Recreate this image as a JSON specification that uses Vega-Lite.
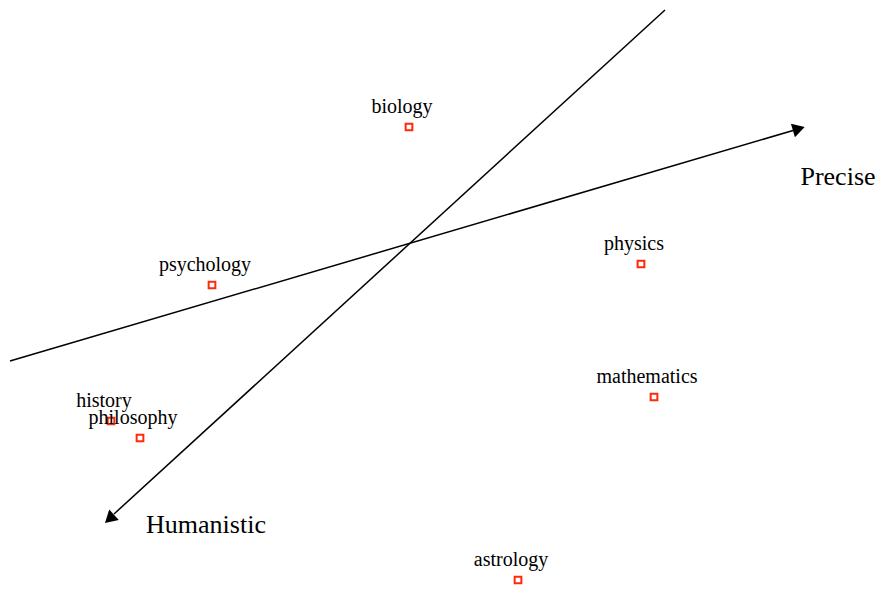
{
  "$schema": "https://vega.github.io/schema/vega-lite/v6.json",
  "width": 882,
  "height": 589,
  "autosize": {"type": "none"},
  "padding": 0,
  "background": "white",
  "config": {"view": {"stroke": null}},
  "datasets": {
    "fields": [
      {"name": "biology", "x": 409, "y": 462},
      {"name": "psychology", "x": 212, "y": 304},
      {"name": "physics", "x": 641, "y": 325},
      {"name": "mathematics", "x": 654, "y": 192},
      {"name": "history", "x": 111, "y": 168},
      {"name": "philosophy", "x": 140, "y": 151},
      {"name": "astrology", "x": 518, "y": 9}
    ],
    "axes": [
      {"axis": "Precise", "order": 0, "x": 10, "y": 228},
      {"axis": "Precise", "order": 1, "x": 793, "y": 458.5},
      {"axis": "Humanistic", "order": 0, "x": 665, "y": 579},
      {"axis": "Humanistic", "order": 1, "x": 114, "y": 75}
    ],
    "heads": [
      {"axis": "Precise", "x": 798.8, "y": 460.2, "angle": 73.6},
      {"axis": "Humanistic", "x": 109.5, "y": 70.2, "angle": 227.5}
    ],
    "titles": [
      {"label": "Precise", "x": 838, "y": 404},
      {"label": "Humanistic", "x": 206, "y": 56}
    ]
  },
  "layer": [
    {
      "data": {"name": "axes"},
      "mark": {"type": "line", "color": "black", "strokeWidth": 1.5},
      "encoding": {
        "x": {"field": "x", "type": "quantitative", "scale": {"domain": [0, 882], "nice": false, "zero": false}, "axis": null},
        "y": {"field": "y", "type": "quantitative", "scale": {"domain": [0, 589], "nice": false, "zero": false}, "axis": null},
        "detail": {"field": "axis"},
        "order": {"field": "order"}
      }
    },
    {
      "data": {"name": "heads"},
      "mark": {"type": "point", "shape": "triangle-up", "filled": true, "color": "black", "size": 200, "opacity": 1},
      "encoding": {
        "x": {"field": "x", "type": "quantitative"},
        "y": {"field": "y", "type": "quantitative"},
        "angle": {"field": "angle", "type": "quantitative", "scale": null}
      }
    },
    {
      "data": {"name": "fields"},
      "mark": {"type": "point", "shape": "square", "filled": false, "color": "#ff2a0a", "size": 45, "strokeWidth": 2, "opacity": 1},
      "encoding": {
        "x": {"field": "x", "type": "quantitative"},
        "y": {"field": "y", "type": "quantitative"}
      }
    },
    {
      "data": {"name": "fields"},
      "mark": {"type": "text", "font": "Liberation Serif", "fontSize": 20, "color": "black", "align": "center", "baseline": "alphabetic", "dx": -7, "dy": -14},
      "encoding": {
        "x": {"field": "x", "type": "quantitative"},
        "y": {"field": "y", "type": "quantitative"},
        "text": {"field": "name"}
      }
    },
    {
      "data": {"name": "titles"},
      "mark": {"type": "text", "font": "Liberation Serif", "fontSize": 26, "color": "black", "align": "center", "baseline": "alphabetic"},
      "encoding": {
        "x": {"field": "x", "type": "quantitative"},
        "y": {"field": "y", "type": "quantitative"},
        "text": {"field": "label"}
      }
    }
  ]
}
